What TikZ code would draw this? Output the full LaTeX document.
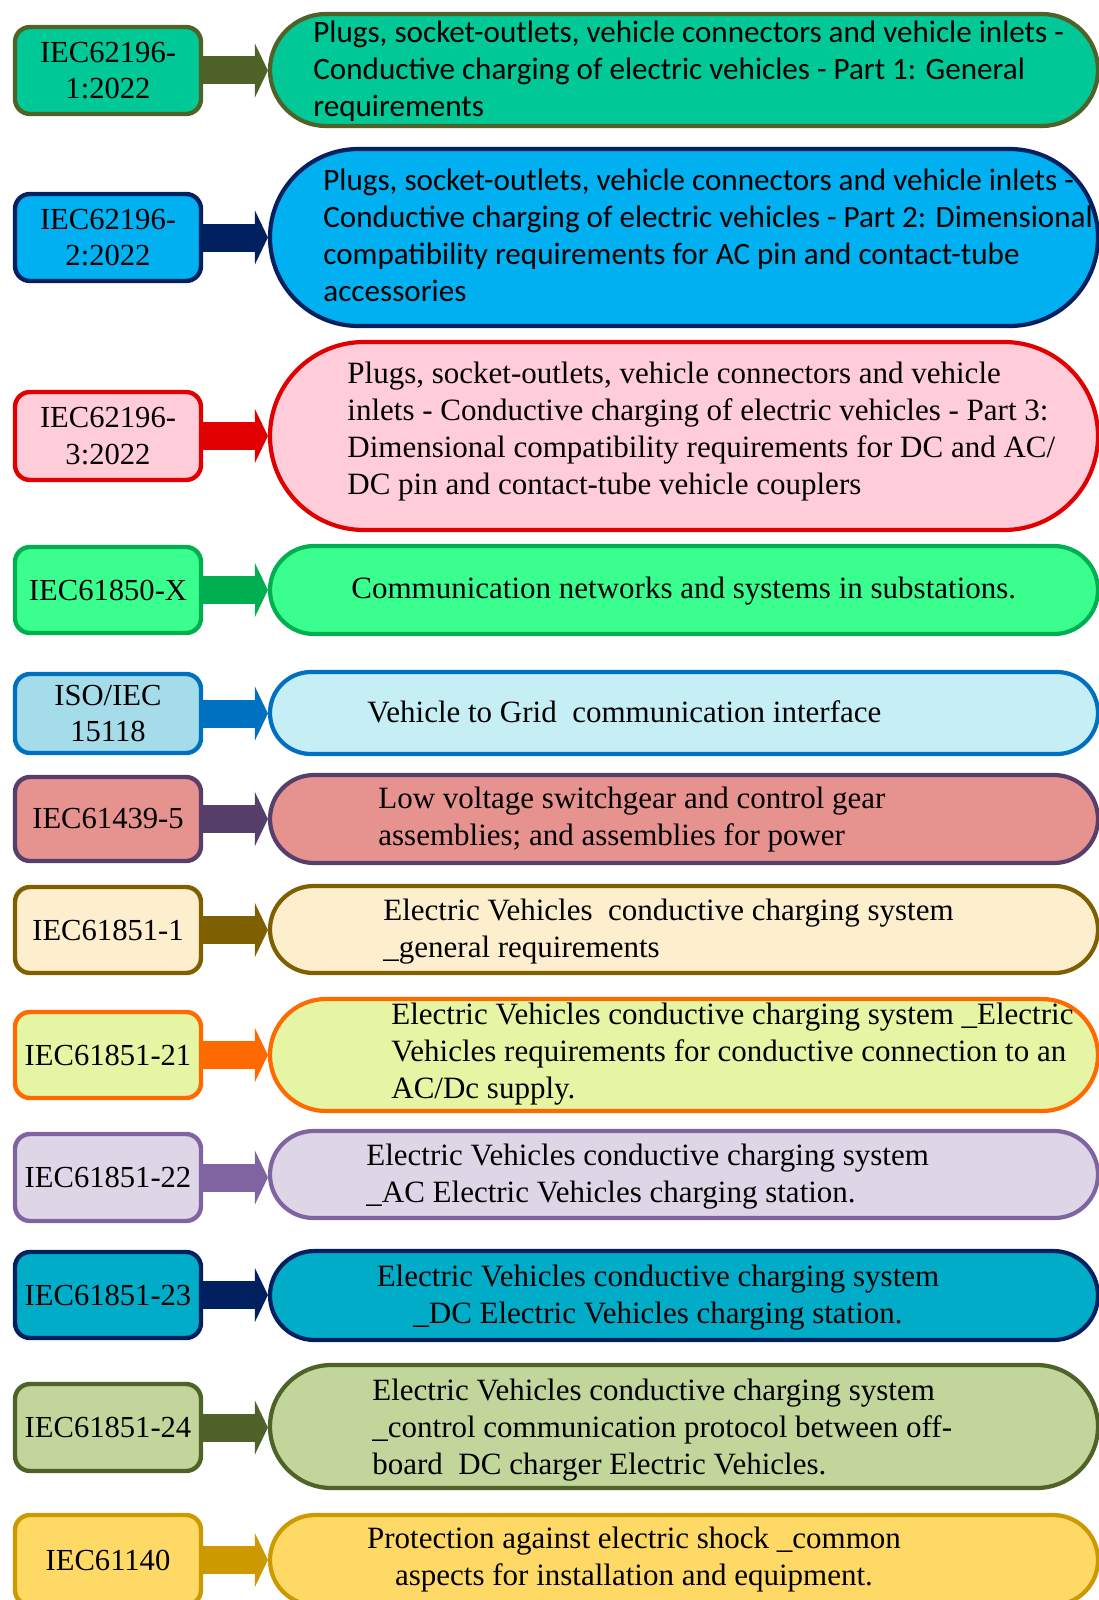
\documentclass[tikz,border=0pt]{standalone}
\usepackage{fontspec}
\setmainfont{Liberation Serif}
\newfontfamily\calib{Carlito}
\usetikzlibrary{arrows.meta,shapes.misc}

% outline / fill colours, one pair per standard
\definecolor{bA}{HTML}{4F6228}\definecolor{fA}{HTML}{00C896}
\definecolor{bB}{HTML}{002060}\definecolor{fB}{HTML}{00B0F0}
\definecolor{bC}{HTML}{E00000}\definecolor{fC}{HTML}{FFCCD9}
\definecolor{bD}{HTML}{00B050}\definecolor{fD}{HTML}{3AFF8F}
\definecolor{bE}{HTML}{0070C0}\definecolor{fE}{HTML}{A5DCE9}\definecolor{gE}{HTML}{C6EEF5}
\definecolor{bF}{HTML}{56406B}\definecolor{fF}{HTML}{E6928F}
\definecolor{bG}{HTML}{7F6000}\definecolor{fG}{HTML}{FDEFCD}
\definecolor{bH}{HTML}{FF6A00}\definecolor{fH}{HTML}{E6F5A3}
\definecolor{bI}{HTML}{8064A2}\definecolor{fI}{HTML}{DED6E6}
\definecolor{bJ}{HTML}{002060}\definecolor{fJ}{HTML}{00ACC8}
\definecolor{bK}{HTML}{4F6228}\definecolor{fK}{HTML}{C2D69B}
\definecolor{bL}{HTML}{CC9900}\definecolor{fL}{HTML}{FFD966}

\begin{document}
\begin{tikzpicture}[x=0.5pt,y=-0.5pt,
  lbox/.style 2 args={draw=#1, fill=#2, line width=2.2pt, rounded corners=7.5pt,
    minimum width=93pt, inner sep=0pt, align=center,
    font=\fontsize{15.3}{18.35}\selectfont},
  rbox/.style 2 args={rounded rectangle, draw=#1, fill=#2, line width=2.1pt,
    minimum width=414pt, inner sep=0pt},
  link/.style={draw=#1, line width=14pt,
    -{Triangle[length=6.5pt,width=27pt,line width=0pt]}},
  serif/.style={inner sep=0pt, anchor=north west, align=left,
    font=\fontsize{15.5}{18.5}\selectfont},
  serifc/.style={serif, anchor=north, align=center},
  sans/.style={serif, font=\calib\fontsize{15.55}{18.5}\selectfont}]

\useasboundingbox (0,0) rectangle (1098,1600);
\fill[white] (0,0) rectangle (1098,1600);

% IEC 62196-1
\node[rbox={bA}{fA}, minimum height=56pt] (R1) at (684,70) {};
\node[lbox={bA}{fA}, minimum height=43.5pt] (L1) at (108,70.5) {IEC62196-\\1:2022};
\draw[link=bA] (L1.east) -- (L1.east -| R1.west);
\node[sans] (T1) at (313,16) {\rule{0pt}{13pt}Plugs, socket-outlets, vehicle connectors and vehicle inlets -\\Conductive charging of electric vehicles - Part 1: General\\requirements};

% IEC 62196-2
\node[rbox={bB}{fB}, minimum height=88.5pt] (R2) at (684,237.5) {};
\node[lbox={bB}{fB}, minimum height=43.5pt] (L2) at (108,237.5) {IEC62196-\\2:2022};
\draw[link=bB] (L2.east) -- (L2.east -| R2.west);
\node[sans] (T2) at (323,164) {\rule{0pt}{13pt}Plugs, socket-outlets, vehicle connectors and vehicle inlets -\\Conductive charging of electric vehicles - Part 2: Dimensional\\compatibility requirements for AC pin and contact-tube\\accessories};

% IEC 62196-3
\node[rbox={bC}{fC}, minimum height=94pt] (R3) at (684,436) {};
\node[lbox={bC}{fC}, minimum height=44pt] (L3) at (108,436) {IEC62196-\\3:2022};
\draw[link=bC] (L3.east) -- (L3.east -| R3.west);
\node[serif] (T3) at (347,357) {\rule{0pt}{13pt}Plugs, socket-outlets, vehicle connectors and vehicle\\inlets - Conductive charging of electric vehicles - Part 3:\\Dimensional compatibility requirements for DC and AC/\\DC pin and contact-tube vehicle couplers};

% IEC 61850
\node[rbox={bD}{fD}, minimum height=44pt] (R4) at (684,590) {};
\node[lbox={bD}{fD}, minimum height=43pt] (L4) at (108,590) {IEC61850-X};
\draw[link=bD] (L4.east) -- (L4.east -| R4.west);
\node[serif] (T4) at (351,572) {\rule{0pt}{13pt}Communication networks and systems in substations.};

% ISO/IEC 15118
\node[rbox={bE}{gE}, minimum height=41pt] (R5) at (684,713) {};
\node[lbox={bE}{fE}, minimum height=39.5pt] (L5) at (108,713.5) {ISO/IEC\\15118};
\draw[link=bE] (L5.east) -- (L5.east -| R5.west);
\node[serif] (T5) at (367,696) {\rule{0pt}{13pt}Vehicle to Grid~ communication interface};

% IEC 61439-5
\node[rbox={bF}{fF}, minimum height=44pt] (R6) at (684,819) {};
\node[lbox={bF}{fF}, minimum height=42pt] (L6) at (108,819) {IEC61439-5};
\draw[link=bF] (L6.east) -- (L6.east -| R6.west);
\node[serif] (T6) at (378,782) {\rule{0pt}{13pt}Low voltage switchgear and control gear\\assemblies; and assemblies for power};

% IEC 61851-1
\node[rbox={bG}{fG}, minimum height=43.5pt] (R7) at (684,929.5) {};
\node[lbox={bG}{fG}, minimum height=43pt] (L7) at (108,930) {IEC61851-1};
\draw[link=bG] (L7.east) -- (L7.east -| R7.west);
\node[serif] (T7) at (383,894) {\rule{0pt}{13pt}Electric Vehicles~ conductive charging system\\\_general requirements};

% IEC 61851-21
\node[rbox={bH}{fH}, minimum height=56pt] (R8) at (684,1055) {};
\node[lbox={bH}{fH}, minimum height=43pt] (L8) at (108,1055) {IEC61851-21};
\draw[link=bH] (L8.east) -- (L8.east -| R8.west);
\node[serif] (T8) at (391,998) {\rule{0pt}{13pt}Electric Vehicles conductive charging system \_Electric\\Vehicles requirements for conductive connection to an\\AC/Dc supply.};

% IEC 61851-22
\node[rbox={bI}{fI}, minimum height=43.5pt] (R9) at (684,1174.5) {};
\node[lbox={bI}{fI}, minimum height=43.5pt] (L9) at (108,1177.5) {IEC61851-22};
\draw[link=bI] (L9.east) -- (L9.east -| R9.west);
\node[serif] (T9) at (366,1139) {\rule{0pt}{13pt}Electric Vehicles conductive charging system\\\_AC Electric Vehicles charging station.};

% IEC 61851-23
\node[rbox={bJ}{fJ}, minimum height=44.5pt] (R10) at (684,1295.5) {};
\node[lbox={bJ}{fJ}, minimum height=43pt] (L10) at (108,1295) {IEC61851-23};
\draw[link=bJ] (L10.east) -- (L10.east -| R10.west);
\node[serifc] (T10) at (658,1260) {\rule{0pt}{13pt}Electric Vehicles conductive charging system\\\_DC Electric Vehicles charging station.};

% IEC 61851-24
\node[rbox={bK}{fK}, minimum height=61.5pt] (R11) at (684,1426.5) {};
\node[lbox={bK}{fK}, minimum height=43.5pt] (L11) at (108,1427.5) {IEC61851-24};
\draw[link=bK] (L11.east) -- (L11.east -| R11.west);
\node[serif] (T11) at (372,1374) {\rule{0pt}{13pt}Electric Vehicles conductive charging system\\\_control communication protocol between off-\\board~ DC charger Electric Vehicles.};

% IEC 61140
\node[rbox={bL}{fL}, minimum height=45pt] (R12) at (684,1560) {};
\node[lbox={bL}{fL}, minimum height=45pt] (L12) at (108,1560) {IEC61140};
\draw[link=bL] (L12.east) -- (L12.east -| R12.west);
\node[serifc] (T12) at (634,1522) {\rule{0pt}{13pt}Protection against electric shock \_common\\aspects for installation and equipment.};

\end{tikzpicture}
\end{document}
